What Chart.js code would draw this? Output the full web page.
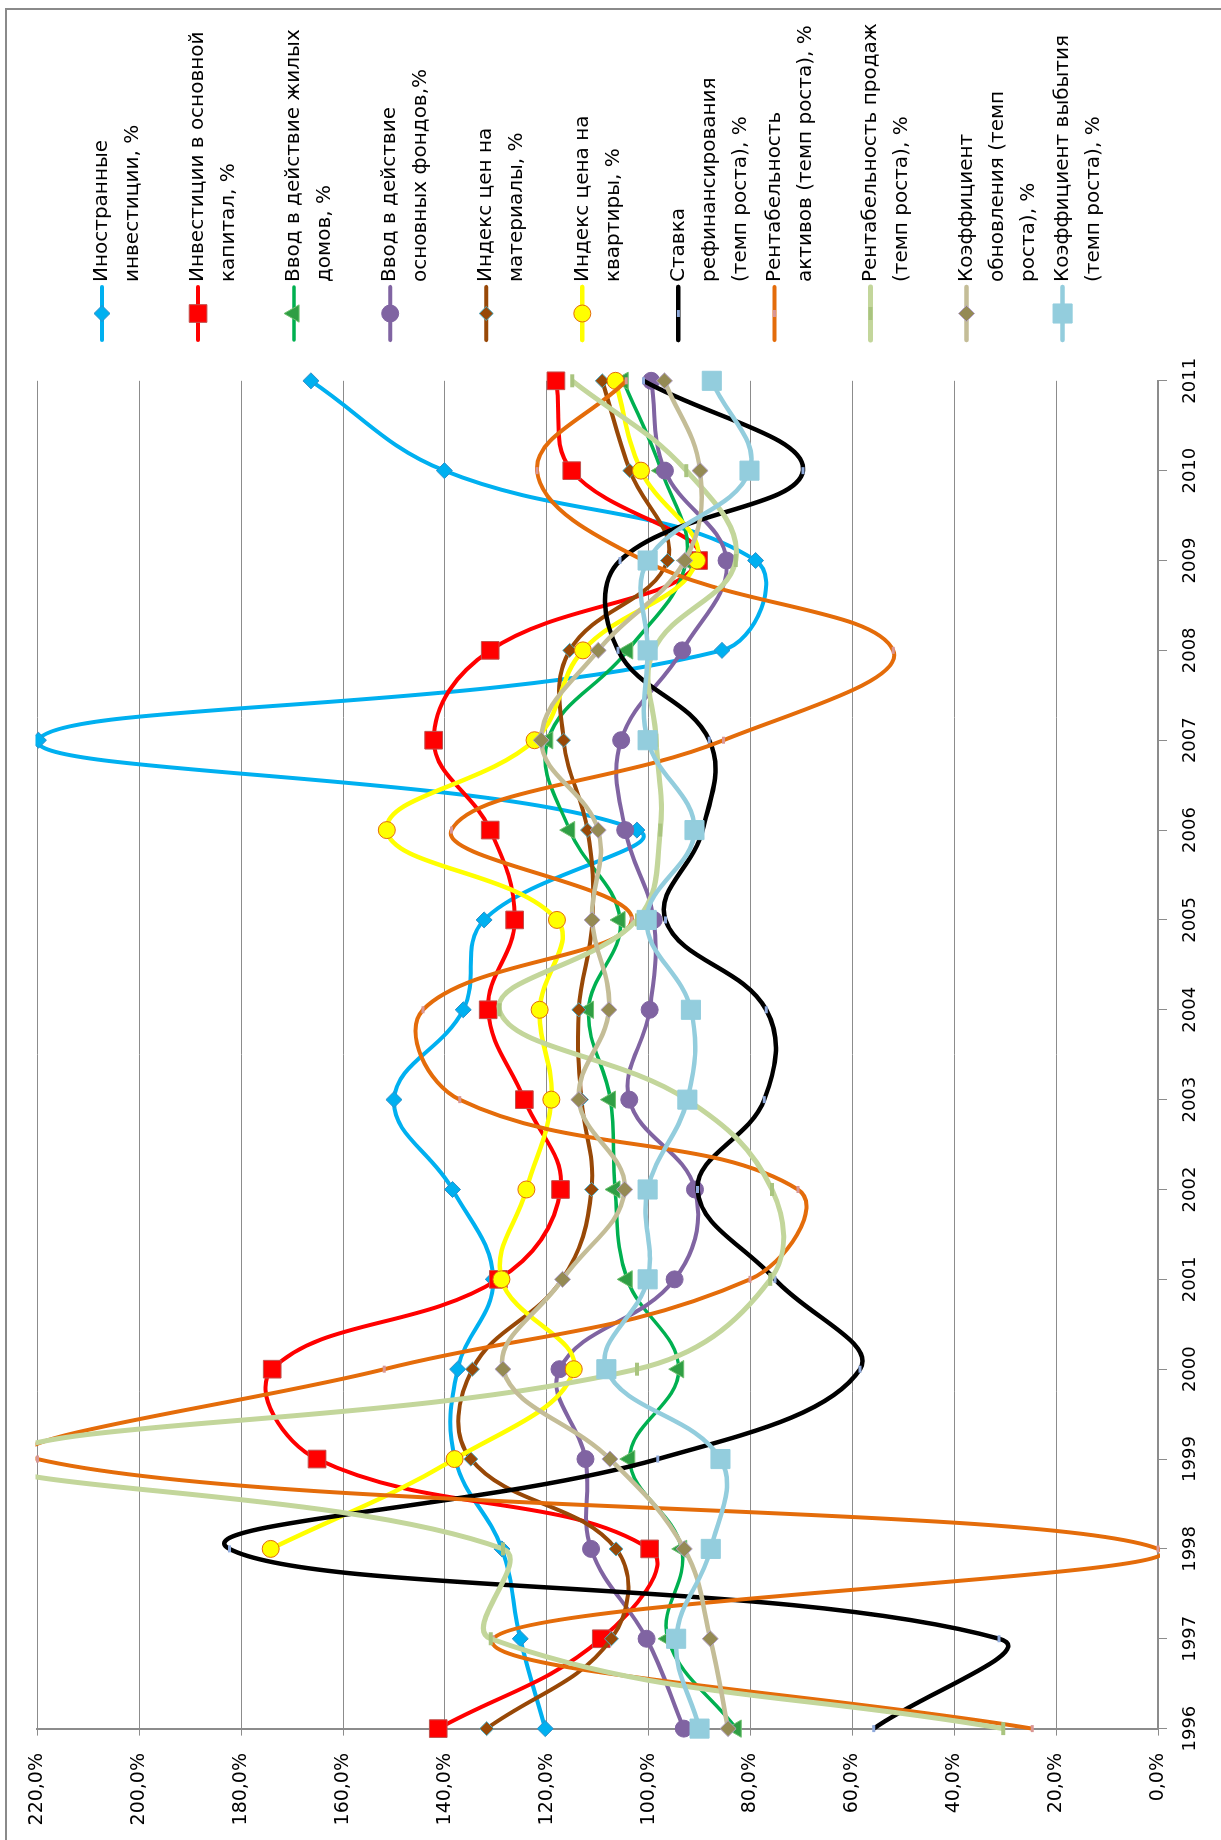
<!DOCTYPE html>
<html>
<head>
<meta charset="utf-8">
<title>Темпы роста показателей, 1996–2011</title>
<script src="https://cdn.jsdelivr.net/npm/chart.js@4.4.1/dist/chart.umd.min.js"></script>
<style>
  html, body { margin: 0; padding: 0; background: #fff; }
  #stage { position: relative; width: 1221px; height: 1840px; overflow: hidden; }
  /* the chart is built in landscape and turned a quarter turn to the left */
  #wrap { position: absolute; left: 0; top: 0; width: 1840px; height: 1221px;
          transform-origin: 0 0; transform: translateY(1840px) rotate(-90deg); }
</style>
</head>
<body>
<div id="stage">
  <div id="wrap"><canvas id="chart" width="1840" height="1221"></canvas></div>
</div>
<script>
// years on the category axis
const years = ['1996', '1997', '1998', '1999', '2000', '2001', '2002', '2003',
               '2004', '2005', '2006', '2007', '2008', '2009', '2010', '2011'];

// series values, %
const foreignInv   = [120.3, 125.2, 128.8, 138.0, 137.5, 130.5, 138.5, 150.0, 136.4, 132.3, 102.3, 219.8, 85.6, 79.0, 140.1, 166.3];
const capitalInv   = [141.3, 109.3, 99.8, 165.1, 173.9, 129.5, 117.3, 124.4, 131.5, 126.3, 131.1, 142.2, 131.1, 90.2, 115.1, 118.2];
const housing      = [82.8, 96.2, 93.5, 103.7, 94.1, 104.2, 106.6, 107.5, 111.8, 105.6, 115.5, 119.8, 104.1, 92.6, 97.5, 105.0];
const fixedAssets  = [93.1, 100.4, 111.3, 112.4, 117.5, 94.9, 90.9, 103.8, 99.8, 99.0, 104.6, 105.4, 93.4, 84.7, 96.8, 99.5];
const materials    = [131.8, 107.3, 106.4, 134.9, 134.6, 117.0, 111.2, 113.2, 113.7, 111.0, 112.0, 116.7, 115.5, 96.3, 103.7, 109.1];
const flatPrice    = [null, null, 174.2, 138.1, 114.7, 128.9, 124.0, 119.1, 121.4, 118.0, 151.4, 122.4, 112.9, 90.5, 101.5, 106.5];
const refRate      = [55.8, 31.2, 182.3, 98.2, 58.5, 75.2, 90.4, 77.3, 76.9, 96.7, 89.4, 88.1, 106.0, 105.6, 69.7, 101.0];
const assetReturn  = [24.7, 130.5, 0.0, 220.0, 151.9, 80.1, 70.7, 137.1, 144.3, 103.3, 138.7, 85.3, 52.0, 101.0, 121.9, 104.4];
const salesReturn  = [30.4, 131.0, 128.6, 228.0, 102.3, 76.1, 75.8, 92.5, 129.3, 102.3, 97.7, 98.5, 99.0, 82.9, 92.6, 115.0];
const renewal      = [84.4, 87.9, 93.0, 107.6, 128.6, 116.9, 104.7, 113.7, 107.8, 111.1, 109.9, 121.1, 109.9, 92.9, 89.9, 96.9];
const retirement   = [90.0, 94.6, 87.8, 85.9, 108.3, 100.2, 100.2, 92.4, 91.7, 100.4, 91.0, 100.2, 100.2, 100.2, 80.2, 87.6];

// legend captions, wrapped as in the picture
const legendLines = [
  ['Иностранные', 'инвестиции, %'],
  ['Инвестиции в основной', 'капитал, %'],
  ['Ввод в действие жилых', 'домов, %'],
  ['Ввод в действие', 'основных фондов,%'],
  ['Индекс цен на', 'материалы, %'],
  ['Индекс цена на', 'квартиры, %'],
  ['Ставка', 'рефинансирования', '(темп роста), %'],
  ['Рентабельность', 'активов (темп роста), %'],
  ['Рентабельность продаж', '(темп роста), %'],
  ['Коэффициент', 'обновления (темп', 'роста), %'],
  ['Коэффициент выбытия', '(темп роста), %']
];

function series(label, data, line, width, style, radius, fill, edge, edgeWidth) {
  return {
    label: label, data: data,
    borderColor: line, borderWidth: width,
    pointStyle: style, pointRadius: radius,
    pointBackgroundColor: fill, pointBorderColor: edge, pointBorderWidth: edgeWidth
  };
}

const datasets = [
  series(legendLines[0].join(' '), foreignInv, '#00B0F0', 4, 'rectRot', 8, '#00B0F0', '#2E8FC8', 1),
  series(legendLines[1].join(' '), capitalInv, '#FF0000', 4, 'rect', 12.5, '#FF0000', '#C0504D', 1),
  series(legendLines[2].join(' '), housing, '#00B050', 3.5, 'triangle', 10, '#2F9E44', '#70C070', 1),
  series(legendLines[3].join(' '), fixedAssets, '#8064A2', 4, 'circle', 8.5, '#8064A2', '#8064A2', 1),
  series(legendLines[4].join(' '), materials, '#984807', 4, 'rectRot', 7, '#984807', '#4BACC6', 1),
  series(legendLines[5].join(' '), flatPrice, '#FFFF00', 4.5, 'circle', 8.5, '#FFFF00', '#E46C0A', 1),
  series(legendLines[6].join(' '), refRate, '#000000', 4.5, 'line', 3.5, '#8EA9DB', '#8EA9DB', 3),
  series(legendLines[7].join(' '), assetReturn, '#E46C0A', 4, 'line', 3.5, '#D99694', '#D99694', 3),
  series(legendLines[8].join(' '), salesReturn, '#C3D69B', 5, 'line', 6.5, '#A9C47F', '#A9C47F', 4),
  series(legendLines[9].join(' '), renewal, '#C4BD97', 4.5, 'rectRot', 8, '#948A54', '#B3A2C7', 1),
  series(legendLines[10].join(' '), retirement, '#93CDDD', 4.5, 'rect', 13.5, '#93CDDD', '#93CDDD', 1)
];
// later series are painted over earlier ones
datasets.forEach((d, i) => {
  d.order = datasets.length - 1 - i;
  d.clip = { left: 14, right: 14, top: 2, bottom: 2 };
});

const GRID = '#8C8C8C';
const FONT = 'DejaVu Sans';

// outer frame of the chart
const framePlugin = {
  id: 'frame',
  beforeDraw(chart) {
    const ctx = chart.ctx;
    ctx.save();
    ctx.fillStyle = '#fff';
    ctx.fillRect(0, 0, chart.width, chart.height);
    ctx.strokeStyle = '#8A8A8A';
    ctx.lineWidth = 2;
    ctx.strokeRect(-10, 6, 1841, 1240);
    ctx.restore();
  }
};

// legend on the right, several lines per entry
const sideLegend = {
  id: 'sideLegend',
  afterDraw(chart) {
    const ctx = chart.ctx;
    const x0 = 1500, x1 = 1553, tx = 1558;
    ctx.save();
    chart.data.datasets.forEach((ds, i) => {
      const cy = 102 + i * 96.06;
      ctx.strokeStyle = ds.borderColor;
      ctx.lineWidth = ds.borderWidth;
      ctx.lineCap = 'round';
      ctx.beginPath();
      ctx.moveTo(x0, cy);
      ctx.lineTo(x1, cy);
      ctx.stroke();
      ctx.lineCap = 'butt';
      ctx.fillStyle = ds.pointBackgroundColor;
      ctx.strokeStyle = ds.pointBorderColor;
      ctx.lineWidth = ds.pointBorderWidth;
      Chart.helpers.drawPoint(ctx, {
        pointStyle: ds.pointStyle, radius: ds.pointRadius,
        borderWidth: ds.pointBorderWidth, rotation: 0
      }, (x0 + x1) / 2, cy);
      ctx.fillStyle = '#000';
      ctx.font = '20px "' + FONT + '"';
      ctx.textAlign = 'left';
      ctx.textBaseline = 'middle';
      legendLines[i].forEach((line, j) => ctx.fillText(line, tx, cy + j * 31));
    });
    ctx.restore();
  }
};

const ctx = document.getElementById('chart');
const chart = new Chart(ctx, {
  type: 'line',
  data: { labels: years, datasets: datasets },
  options: {
    responsive: false,
    devicePixelRatio: 1,
    animation: false,
    events: [],
    layout: { padding: { left: 0, right: 380.8, top: 37.4, bottom: 0 } },
    elements: {
      line: { tension: 0.4, capBezierPoints: false, fill: false },
      point: { hoverRadius: 0 }
    },
    plugins: {
      legend: { display: false },
      tooltip: { enabled: false },
      title: { display: false }
    },
    scales: {
      x: {
        type: 'category',
        offset: false,
        afterFit: (s) => { s.height = 63; },
        grid: { drawOnChartArea: false, drawTicks: true, tickLength: 9, tickColor: GRID, tickWidth: 1 },
        border: { display: true, color: GRID, width: 2 },
        ticks: { color: '#000', font: { family: FONT, size: 18 }, padding: 13, maxRotation: 0, autoSkip: false }
      },
      y: {
        min: 0, max: 220,
        afterFit: (s) => { s.width = 111.4; },
        grid: { color: GRID, lineWidth: 1, tickLength: 7, tickColor: GRID },
        border: { display: true, color: GRID, width: 2 },
        ticks: {
          stepSize: 20, color: '#000', font: { family: FONT, size: 19 }, padding: 17.4,
          callback: (v) => v.toFixed(1).replace('.', ',') + '%'
        }
      }
    }
  },
  plugins: [framePlugin, sideLegend]
});
</script>
</body>
</html>
